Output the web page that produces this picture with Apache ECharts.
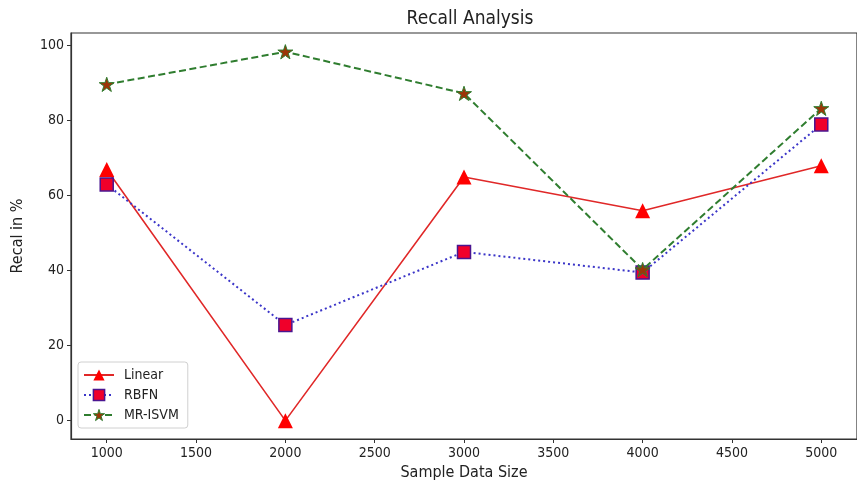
<!DOCTYPE html>
<html>
<head>
<meta charset="utf-8">
<script src="https://cdn.jsdelivr.net/npm/echarts@6/dist/echarts.min.js"></script>
<style>
html,body{margin:0;padding:0;background:#fff;}
#chart{width:857px;height:488px;}
</style>
</head>
<body>
<div id="chart"></div>
<script>
const sampleSizes = [1000, 2000, 3000, 4000, 5000];
const linearValues = [67, 0, 65, 56, 68];
const rbfnValues = [63, 25.5, 45, 39.5, 79];
const mrisvmValues = [89.7, 98.4, 87.3, 40.3, 83.3];
const xTickLabels = [1000, 1500, 2000, 2500, 3000, 3500, 4000, 4500, 5000];
const yTickLabels = [0, 20, 40, 60, 80, 100];

const FONT = "'DejaVu Sans Condensed', 'DejaVu Sans', sans-serif";
const STAR = 'path://M50,0 L61.23,34.55 L97.55,34.55 L68.17,55.9 L79.39,90.45 L50,69.1 L20.61,90.45 L31.83,55.9 L2.45,34.55 L38.77,34.55 Z';

const pair = arr => sampleSizes.map((x, i) => [x, arr[i]]);

const linearItem = {color: '#ff0000', borderColor: '#ff0000', borderWidth: 0};
const rbfnItem = {color: '#f0002a', borderColor: '#4a1590', borderWidth: 1.5};
const starItem = {color: '#9c3508', borderColor: '#2f7d2f', borderWidth: 1};

const chart = echarts.init(document.getElementById('chart'), null, {renderer: 'canvas'});
chart.setOption({
  animation: false,
  backgroundColor: '#fff',
  textStyle: {fontFamily: FONT},
  title: {
    text: 'Recall Analysis',
    left: 465, top: 5, textAlign: 'center',
    textStyle: {fontFamily: FONT, fontSize: 19, fontWeight: 'normal', color: '#222'}
  },
  grid: {left: 71, right: -10, top: 33, bottom: 49, show: true, borderColor: '#333', borderWidth: 1.2, containLabel: false},
  legend: {
    orient: 'vertical',
    left: 78, top: 362,
    itemWidth: 30, itemHeight: 14, itemGap: 6,
    padding: [6, 9, 6, 5],
    borderColor: '#d0d0d0', borderWidth: 1, borderRadius: 3,
    backgroundColor: 'rgba(255,255,255,0.85)',
    textStyle: {fontFamily: FONT, fontSize: 14, color: '#222', padding: [0, 0, 0, 5]},
    data: [
      {name: 'Linear', itemStyle: linearItem},
      {name: 'RBFN', itemStyle: rbfnItem},
      {name: 'MR-ISVM', itemStyle: starItem}
    ]
  },
  xAxis: {
    type: 'value', min: 800, max: 5200,
    name: 'Sample Data Size', nameLocation: 'middle', nameGap: 25,
    nameTextStyle: {fontFamily: FONT, fontSize: 16, color: '#222'},
    axisLine: {show: true, onZero: false, lineStyle: {color: '#333', width: 1.2}},
    axisTick: {show: true, length: 4, inside: false, customValues: xTickLabels, lineStyle: {color: '#333'}},
    axisLabel: {customValues: xTickLabels, formatter: v => String(v), fontFamily: FONT, fontSize: 14, color: '#222', margin: 7},
    splitLine: {show: false}
  },
  yAxis: {
    type: 'value', min: -4.9, max: 103.4,
    name: 'Recal in %', nameLocation: 'middle', nameGap: 45, nameRotate: 90,
    nameTextStyle: {fontFamily: FONT, fontSize: 16, color: '#222'},
    axisLine: {show: true, onZero: false, lineStyle: {color: '#333', width: 1.2}},
    axisTick: {show: true, length: 4, inside: false, customValues: yTickLabels, lineStyle: {color: '#333'}},
    axisLabel: {customValues: yTickLabels, formatter: v => String(v), fontFamily: FONT, fontSize: 14, color: '#222', margin: 7},
    splitLine: {show: false}
  },
  series: [
    {
      name: 'Linear', type: 'line', data: pair(linearValues),
      symbol: 'triangle', symbolSize: 15,
      lineStyle: {color: '#e02828', width: 1.6, type: 'solid'},
      itemStyle: linearItem,
      z: 3
    },
    {
      name: 'RBFN', type: 'line', data: pair(rbfnValues),
      symbol: 'rect', symbolSize: 13,
      lineStyle: {color: '#3b35c8', width: 2, type: [2, 3]},
      itemStyle: rbfnItem,
      z: 4
    },
    {
      name: 'MR-ISVM', type: 'line', data: pair(mrisvmValues),
      symbol: STAR, symbolSize: 15, symbolKeepAspect: true,
      lineStyle: {color: '#2f7d2f', width: 2, type: [7, 3.5]},
      itemStyle: starItem,
      z: 5
    }
  ]
});
</script>
</body>
</html>
